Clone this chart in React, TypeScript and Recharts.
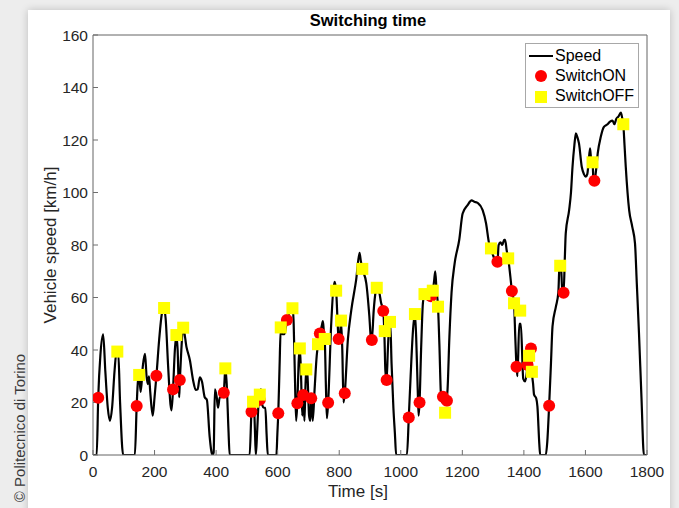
import React from 'react';
import { ComposedChart, Line, Scatter, XAxis, YAxis, CartesianGrid } from 'recharts';

const speedTime = [
  0, 12, 17, 24, 33, 40, 48, 55, 62, 70, 76, 82, 88, 98, 136, 142, 146, 150, 155, 162, 169, 174, 178, 182, 186, 194, 200, 206, 215, 224, 231, 236, 244, 252, 255, 260, 266, 271, 275, 280, 282, 287, 293, 304, 315, 325, 334, 340, 347, 354, 363, 370, 379, 388, 392, 396, 402, 406, 412, 418, 425, 430, 434, 440, 444,
  509, 515, 522, 526, 529, 533, 538, 542, 546, 550, 555, 560, 564, 568, 596,
  599, 602, 606, 610, 616, 622, 630, 640, 648, 652, 656, 660, 664, 668, 672, 676, 680, 683, 687, 690, 693, 697, 702, 706, 709, 714, 720, 727, 731, 737, 743, 747, 750, 753, 757, 760, 764, 774, 785, 790, 795, 798, 802, 806, 810, 814, 818, 828, 839, 855, 866, 870, 875, 888, 898, 903, 906, 912, 918, 922, 930, 936, 943, 947, 950, 954, 958, 963, 966, 970, 976, 981, 985, 1020,
  1026, 1032, 1040, 1046, 1050, 1055, 1058, 1061, 1066, 1072, 1077, 1085, 1092, 1098, 1104, 1108, 1112, 1116, 1121, 1126, 1130, 1134, 1140, 1148, 1152, 1158, 1165, 1175, 1190, 1201, 1217, 1230, 1239, 1250, 1266, 1277, 1287, 1293, 1300, 1308, 1314, 1318, 1324, 1330, 1336, 1339, 1344, 1349, 1356, 1361, 1368, 1372, 1376, 1379, 1385, 1390, 1398, 1404, 1410, 1417, 1423, 1426, 1430, 1433, 1440, 1444, 1450, 1453, 1471,
  1476, 1482, 1488, 1493, 1504, 1512, 1516, 1520, 1525, 1529, 1533, 1536, 1547, 1553, 1558, 1564, 1569, 1574, 1579, 1588, 1595, 1601, 1606, 1610, 1615, 1619, 1623, 1626, 1629, 1634, 1640, 1650, 1660, 1672, 1680, 1688, 1694, 1700, 1707, 1715, 1720, 1723, 1727, 1731, 1742, 1752, 1761, 1767, 1774, 1782, 1790, 1800,
];
const speedKmh = [
  0, 0, 22, 38, 46, 32, 18, 13, 18, 32, 39, 39, 20, 0, 0, 19, 28, 30, 24, 34, 38.5, 30, 27, 30, 24, 15, 22, 30, 44, 54, 56, 52, 34, 19, 17, 25, 40, 45.7, 40, 22, 28, 40, 48.5, 41, 36, 28.6, 24.8, 25, 29.6, 28, 22, 21, 7, 0, 1, 25, 22, 18, 22, 22, 24, 33, 28, 10, 0,
  0, 16.5, 21, 10, 0, 8, 20, 24, 25, 19, 18, 18, 8, 0, 0,
  8, 16, 33, 48, 46, 46, 51, 55, 57, 50, 30, 13, 20, 35, 41, 30, 15, 23, 13, 25, 33, 30, 15, 13, 22, 13, 25, 38, 42, 46.3, 49, 51, 47, 44, 25, 14, 20, 50, 66, 62.6, 50, 44, 45, 51, 40, 20, 23.5, 43.8, 55, 66.7, 77, 74, 71, 65.4, 52.7, 44.5, 44, 55, 62, 63.7, 62, 58, 55, 45, 32, 28.6, 40, 50, 50, 35, 18, 8, 0, 0,
  14.3, 30, 48, 53.7, 45, 25, 15, 20, 40, 58, 61.3, 60, 59, 60, 62.6, 66, 70, 63, 56.5, 40, 24, 20, 20, 20, 25, 45, 62, 73, 82, 92, 95.2, 97, 96.5, 96, 93.3, 88.3, 80.6, 78.7, 76, 74, 73.6, 80, 81, 80, 82, 82, 78, 75, 68, 62.5, 57.8, 45, 33.6, 30, 50, 50, 29, 28, 32, 41, 40.6, 31.7, 27, 23, 21.6, 18.4, 4.4, 0, 0,
  5, 18.8, 35, 49, 56.5, 62, 73, 73, 62, 61.8, 75, 84.4, 93.3, 100, 109.8, 118, 122.5, 121, 118.7, 109.8, 107, 106, 107, 111, 116.8, 112, 111.5, 105, 104.5, 108, 115, 121.3, 125, 126, 127, 127.4, 126, 128, 128.9, 130.4, 128, 126, 118, 109.8, 93.3, 87, 80.6, 65, 46.3, 22, 0, 0,
];

const switchOnTime = [17, 142, 206, 260, 282, 425, 515, 542, 602, 630, 664, 683, 709, 737, 764, 798, 818, 906, 943, 954, 1026, 1061, 1098, 1137, 1150, 1314, 1361, 1376, 1412, 1423, 1482, 1529, 1629];
const switchOnSpeed = [21.8, 18.7, 30.2, 25, 28.6, 23.7, 16.5, 21, 15.9, 51.4, 19.7, 22.9, 21.6, 46.3, 19.9, 44.2, 23.5, 43.8, 54.9, 28.6, 14.3, 20, 60.5, 22.2, 20.7, 73.6, 62.5, 33.6, 34.3, 40.6, 18.8, 61.8, 104.5];

const switchOffTime = [79, 150, 231, 271, 293, 430, 520, 542, 610, 648, 672, 693, 731, 753, 790, 806, 875, 922, 948, 965, 1046, 1077, 1104, 1121, 1144, 1293, 1349, 1368, 1388, 1417, 1426, 1518, 1623, 1723];
const switchOffSpeed = [39.4, 30.5, 56, 45.7, 48.5, 33, 20.3, 23, 48.6, 55.9, 40.6, 32.6, 42.2, 44.2, 62.6, 51.2, 70.9, 63.7, 47.2, 50.7, 53.7, 61.3, 62.6, 56.5, 16.1, 78.7, 74.9, 57.8, 55, 37.8, 31.7, 72.1, 111.5, 126];

const xTicks = [0, 200, 400, 600, 800, 1000, 1200, 1400, 1600, 1800];
const yTicks = [0, 20, 40, 60, 80, 100, 120, 140, 160];

const speedData = speedTime.map((t, i) => ({ t, v: speedKmh[i] }));
const onData = switchOnTime.map((t, i) => ({ t, v: switchOnSpeed[i] }));
const offData = switchOffTime.map((t, i) => ({ t, v: switchOffSpeed[i] }));

const FONT = '"Liberation Sans", Arial, Helvetica, sans-serif';
const TXT = '#262626';
const AX = '#6e6e6e';

const RedDot = (p: any) => <circle cx={p.cx} cy={p.cy} r={6} fill="#ff0000" />;
const YellowSq = (p: any) => <rect x={p.cx - 6} y={p.cy - 6} width={12} height={12} fill="#ffff00" />;

export default function App() {
  const tickStyle = { fill: TXT, fontSize: 15.5, fontFamily: FONT };
  return (
    <div style={{ position: 'absolute', left: 0, top: 0, width: 679, height: 508, background: '#ededed', overflow: 'hidden', fontFamily: FONT }}>
      <div style={{ position: 'absolute', left: 28, top: 10, width: 642, height: 520, background: '#ffffff', boxShadow: '0 0 8px rgba(0,0,0,0.2)' }} />
      <div style={{ position: 'absolute', left: 20 - 90, top: 428 - 10, width: 180, height: 20, lineHeight: '20px', textAlign: 'center', fontSize: 15, color: '#3a3a3a', transform: 'rotate(-90deg)' }}>© Politecnico di Torino</div>
      <div style={{ position: 'absolute', left: 0, top: 0 }}>
        <ComposedChart width={679} height={508} margin={{ top: 34, right: 31, bottom: 0, left: 0 }}>
          <CartesianGrid stroke="#ebebeb" strokeWidth={1} verticalPoints={undefined} />
          <XAxis xAxisId="b" type="number" dataKey="t" domain={[0, 1800]} ticks={xTicks} height={53}
            stroke={AX} tickSize={-5} tickMargin={16} tick={tickStyle} interval={0} allowDataOverflow />
          <XAxis xAxisId="top" orientation="top" type="number" dataKey="t" domain={[0, 1800]} ticks={xTicks} height={1}
            stroke={AX} tickSize={-5} tick={false} interval={0} allowDataOverflow />
          <YAxis yAxisId="l" type="number" domain={[0, 160]} ticks={yTicks} width={93}
            stroke={AX} tickSize={-5} tickMargin={10} tick={tickStyle} interval={0} allowDataOverflow />
          <YAxis yAxisId="r" orientation="right" type="number" domain={[0, 160]} ticks={yTicks} width={1}
            stroke={AX} tickSize={-5} tick={false} interval={0} allowDataOverflow />
          <Line xAxisId="b" yAxisId="l" data={speedData} dataKey="v" type="monotone" stroke="#000000" strokeWidth={2.2} dot={false} isAnimationActive={false} />
          <Scatter xAxisId="b" yAxisId="l" data={onData} dataKey="v" shape={RedDot} isAnimationActive={false} />
          <Scatter xAxisId="b" yAxisId="l" data={offData} dataKey="v" shape={YellowSq} isAnimationActive={false} />
        </ComposedChart>
      </div>
      <div style={{ position: 'absolute', left: 268, top: 11, width: 200, textAlign: 'center', fontSize: 16.5, fontWeight: 'bold', color: '#000' }}>Switching time</div>
      <div style={{ position: 'absolute', left: 258, top: 482, width: 200, textAlign: 'center', fontSize: 17, color: TXT }}>Time [s]</div>
      <div style={{ position: 'absolute', left: 51 - 120, top: 245 - 11, width: 240, height: 22, lineHeight: '22px', textAlign: 'center', fontSize: 17, color: TXT, transform: 'rotate(-90deg)' }}>Vehicle speed [km/h]</div>
      <div style={{ position: 'absolute', left: 525, top: 43, width: 112, height: 63, border: '1px solid #a8a8a8', background: '#fff', fontSize: 16, color: '#000' }}>
        <div style={{ position: 'absolute', left: 3, top: 11, width: 24, height: 2.2, background: '#000' }} />
        <div style={{ position: 'absolute', left: 29, top: 2, lineHeight: '20px' }}>Speed</div>
        <div style={{ position: 'absolute', left: 9, top: 26, width: 12, height: 12, borderRadius: 6, background: '#ff0000' }} />
        <div style={{ position: 'absolute', left: 29, top: 22, lineHeight: '20px' }}>SwitchON</div>
        <div style={{ position: 'absolute', left: 9, top: 47, width: 12, height: 12, background: '#ffff00' }} />
        <div style={{ position: 'absolute', left: 29, top: 42, lineHeight: '20px' }}>SwitchOFF</div>
      </div>
    </div>
  );
}
